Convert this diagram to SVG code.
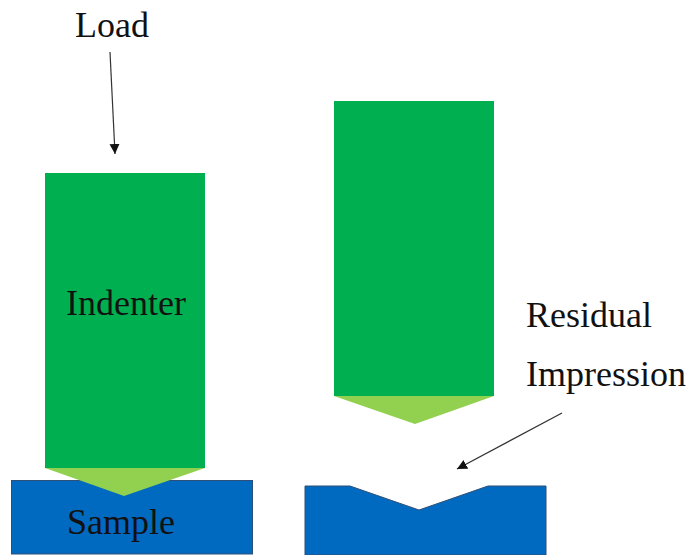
<svg xmlns="http://www.w3.org/2000/svg" width="687" height="555" viewBox="0 0 687 555">
<style>
.body{fill:#00b050}
.tip{fill:#92d050}
.sample{fill:#0069c0;stroke:#2f4f78;stroke-width:1}
.lbl{font-family:"Liberation Serif",serif;font-size:36px;fill:#111}
.arr{stroke:#333;stroke-width:1.2;fill:none;marker-end:url(#ah)}
</style>
<defs><marker id="ah" markerUnits="userSpaceOnUse" markerWidth="11" markerHeight="11" refX="10" refY="5" orient="auto"><path d="M0 0L10 5L0 10Z" fill="#111"/></marker></defs>
<rect width="687" height="555" fill="#fff"/>
<g id="sample-left"><rect class="sample" x="11.500" y="480.500" width="241" height="73.500"/><text class="lbl" x="67" y="534">Sample</text></g>
<g id="indenter-left"><rect class="body" x="45" y="173" width="160" height="295"/><path class="tip" d="M45 468H205L124 496Z"/><text class="lbl" x="66" y="315">Indenter</text></g>
<g id="sample-right"><path class="sample" d="M305 486H350L419 510L488 486H546V555H305Z"/></g>
<g id="indenter-right"><rect class="body" x="334" y="101" width="160" height="295"/><path class="tip" d="M334 396H494L415 424Z"/></g>
<g id="load-label"><text class="lbl" x="75" y="37">Load</text></g>
<g id="residual-label"><text class="lbl" x="526" y="327">Residual</text><text class="lbl" x="526" y="386">Impression</text></g>
<g id="connectors"><line class="arr" x1="110" y1="52" x2="115" y2="154"/><line class="arr" x1="562" y1="413" x2="457" y2="469"/></g>
</svg>
